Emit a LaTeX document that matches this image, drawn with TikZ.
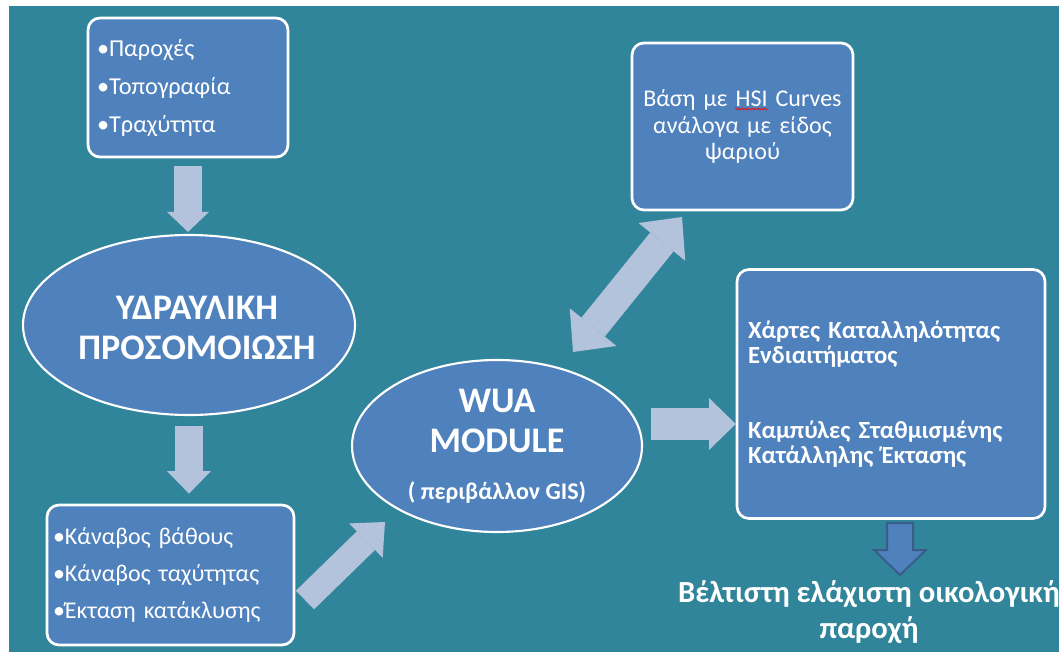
\documentclass[tikz,border=0pt]{standalone}
\usepackage{fontspec}
\setmainfont{Carlito}
\usetikzlibrary{arrows.meta,shapes.geometric,decorations.pathmorphing}
\definecolor{bgteal}{RGB}{49,133,155}
\definecolor{boxblue}{RGB}{79,129,189}
\definecolor{arrowgrey}{RGB}{180,195,220}
\definecolor{arrowedge}{RGB}{56,93,138}
\tikzset{
  infobox/.style={draw=white, line width=2pt, fill=boxblue, rounded corners=9pt, text=white, inner sep=0pt},
  stage/.style={ellipse, draw=white, line width=1.6pt, fill=boxblue, text=white, inner sep=0pt, align=center},
  fatarrow/.style n args={3}{draw=arrowgrey, line width=#1, -{Triangle[width=#2, length=#3, line width=0pt]}},
  dblarrow/.style n args={3}{draw=arrowgrey, line width=#1, {Triangle[width=#2, length=#3, line width=0pt]}-{Triangle[width=#2, length=#3, line width=0pt]}}
}
\begin{document}
\begin{tikzpicture}[x=0.75pt, y=-0.75pt]
\useasboundingbox (0,0) rectangle (1059,652);
\fill[bgteal] (9,6) rectangle (1059,652);

\node[infobox, minimum width=150pt, minimum height=104.25pt, text width=136.5pt, align=left,
  font=\fontsize{18.2}{28.5}\selectfont] (inputs) at (188,87.5) {•Παροχές\\•Τοπογραφία\\•Τραχύτητα};
\node[stage, minimum width=249pt, minimum height=135pt] (hydro) at (189,325) {};
\node[text=white, align=center, font=\bfseries\fontsize{27}{30}\selectfont] (hydrotext) at (197,328) {ΥΔΡΑΥΛΙΚΗ\\ΠΡΟΣΟΜΟΙΩΣΗ};
\node[infobox, minimum width=185.25pt, minimum height=105pt, text width=176.25pt, align=left,
  font=\fontsize{18}{27.75}\selectfont] (grids) at (170.5,575) {•Κάναβος βάθους\\•Κάναβος ταχύτητας\\•Έκταση κατάκλυσης};
\node[stage, minimum width=217.5pt, minimum height=129pt, font=\bfseries\fontsize{27}{30}\selectfont]
  (wua) at (497,446) {WUA\\MODULE\\[5pt]{\fontsize{18}{19}\selectfont ( περιβάλλον GIS)}};
\node[infobox, minimum width=165.75pt, minimum height=125.25pt, text width=160pt, align=center,
  font=\fontsize{18}{20}\selectfont] (hsi) at (742.5,126.5) {Βάση με HSI Curves\\ανάλογα με είδος\\ψαριού};
\node[infobox, minimum width=231pt, minimum height=186.75pt, text width=214.5pt, align=left,
  font=\bfseries\fontsize{18.5}{18.75}\selectfont] (results) at (891,394) {Χάρτες Καταλληλότητας\\Ενδιαιτήματος\\[38pt]Καμπύλες Σταθμισμένης\\Κατάλληλης Έκτασης};
\node[text=white, align=center, font=\bfseries\fontsize{23}{27}\selectfont] (optimum) at (869,612)
  {Βέλτιστη ελάχιστη οικολογική\\παροχή};

\draw[red, line width=0.5pt, decorate, decoration={snake, amplitude=0.7pt, segment length=2.4pt}] (735,109) -- (768,109);

\coordinate (gridsout) at (305,600);
\coordinate (wuain) at (385,522);
\coordinate (wuaup) at (573,352);
\coordinate (hsidown) at (682,217);
\coordinate (wuaout) at (651,424);
\coordinate (resout) at (900,523);

\draw[fatarrow={21pt}{31.5pt}{15pt}, shorten <=6pt, shorten >=1.5pt] (inputs.south) -- (inputs.south |- hydro.north);
\draw[fatarrow={21pt}{33pt}{17pt}, shorten <=7.5pt, shorten >=7.5pt] (hydro.south) -- (hydro.south |- grids.north);
\draw[fatarrow={19.5pt}{36pt}{20pt}] (gridsout) -- (wuain);
\draw[dblarrow={22.5pt}{45pt}{24pt}] (wuaup) -- (hsidown);
\draw[fatarrow={24pt}{39pt}{20pt}] (wuaout) -- (wuaout -| results.west);
\draw[arrowedge, fill=boxblue, line width=1.5pt] (resout) ++(-13,0) -- ++(26,0) -- ++(0,27) -- ++(13,0)
  -- ++(-26,25) -- ++(-26,-25) -- ++(13,0) -- cycle;
\end{tikzpicture}
\end{document}
